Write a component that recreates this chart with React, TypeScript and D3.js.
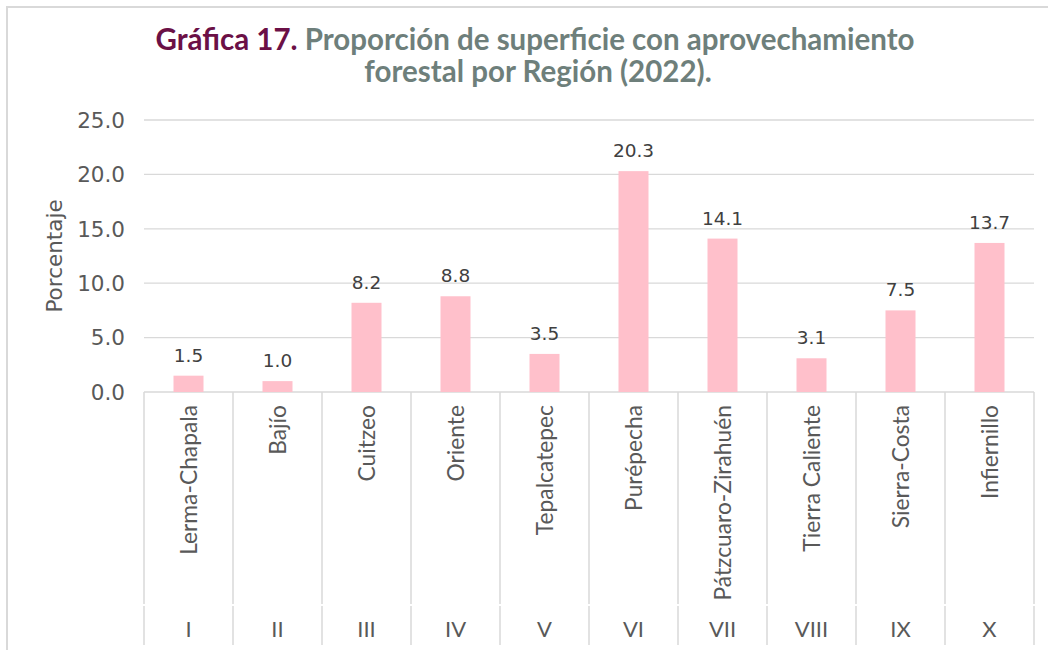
import React from "react";
import * as d3 from "d3";

const regions = ["Lerma-Chapala", "Bajío", "Cuitzeo", "Oriente", "Tepalcatepec", "Purépecha", "Pátzcuaro-Zirahuén", "Tierra Caliente", "Sierra-Costa", "Infiernillo"];
const numerals = ["I", "II", "III", "IV", "V", "VI", "VII", "VIII", "IX", "X"];
const values = [1.5, 1.0, 8.2, 8.8, 3.5, 20.3, 14.1, 3.1, 7.5, 13.7];
const yTicks = [0, 5, 10, 15, 20, 25];

const W = 1048, H = 650;
const left = 144, right = 1034, top = 120, zeroY = 392;
const labelFont = "Lato, 'Open Sans', sans-serif";
const numFont = "'DejaVu Sans', 'Open Sans', sans-serif";
const textColor = "#595959";
const grid = "#d9d9d9";

export default function App() {
  const x = d3.scaleBand<string>().domain(numerals).range([left, right]).paddingInner(0).paddingOuter(0);
  const y = d3.scaleLinear().domain([0, 25]).range([zeroY, top]);
  const bw = 30;
  const boundaries = numerals.map((n) => x(n)!).concat([right]);

  return (
    <svg width={W} height={H} style={{ position: "absolute", left: 0, top: 0 }}>
      <rect x={0} y={0} width={W} height={H} fill="#fff" />
      <rect x={7} y={7} width={W + 20} height={H + 20} fill="#fff" stroke="#d9d9d9" strokeWidth={2} />
      <text x={535} y={50} textAnchor="middle" fontFamily={labelFont} fontWeight={700} fontSize={29.5}>
        <tspan fill="#6b1046">Gráfica 17. </tspan>
        <tspan fill="#6e7f7b">Proporción de superficie con aprovechamiento</tspan>
      </text>
      <text x={538} y={82} textAnchor="middle" fontFamily={labelFont} fontWeight={700} fontSize={29.5} fill="#6e7f7b">
        forestal por Región (2022).
      </text>
      {yTicks.map((t) => (
        <g key={t}>
          <line x1={left} x2={right} y1={y(t)} y2={y(t)} stroke={grid} strokeWidth={t === 0 ? 1.5 : 1.3} />
          <text x={125} y={y(t)} dy="0.36em" textAnchor="end" fontFamily={numFont} fontSize={21.5} fill={textColor}>
            {d3.format(".1f")(t)}
          </text>
        </g>
      ))}
      <text transform={`translate(62,${(top + zeroY) / 2}) rotate(-90)`} textAnchor="middle" fontFamily={numFont} fontSize={21.5} fill={textColor}>
        Porcentaje
      </text>
      {values.map((v, i) => {
        const cx = x(numerals[i])! + x.bandwidth() / 2;
        return (
          <g key={i}>
            <rect x={cx - bw / 2} y={y(v)} width={bw} height={zeroY - y(v)} fill="#ffc0cb" />
            <text x={cx} y={y(v) - 14} textAnchor="middle" fontFamily={numFont} fontSize={18.5} fill="#404040">
              {d3.format(".1f")(v)}
            </text>
            <text transform={`translate(${cx + 8},405) rotate(-90)`} textAnchor="end" fontFamily={labelFont} fontSize={22.8} fill={textColor}>
              {regions[i]}
            </text>
            <text x={cx} y={637} textAnchor="middle" fontFamily={labelFont} fontSize={22} fill={textColor}>
              {numerals[i]}
            </text>
          </g>
        );
      })}
      {boundaries.map((bx, i) => (
        <g key={i}>
          <line x1={bx} x2={bx} y1={zeroY} y2={604} stroke={grid} strokeWidth={1.5} />
          <line x1={bx} x2={bx} y1={606} y2={645} stroke={grid} strokeWidth={1.5} />
        </g>
      ))}
    </svg>
  );
}
